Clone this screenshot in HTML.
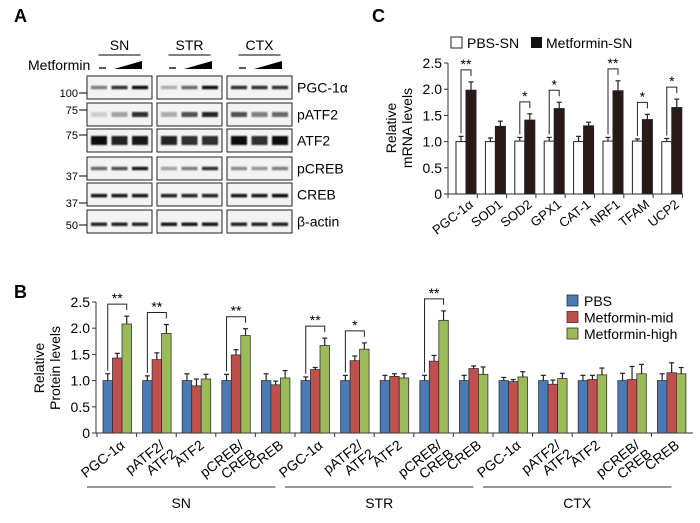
<!DOCTYPE html>
<html><head><meta charset="utf-8"><style>
body{margin:0;background:#fff}
svg{display:block;font-family:"Liberation Sans",sans-serif}
</style></head><body>
<svg id="fig" width="700" height="523" viewBox="0 0 700 523">
<defs><filter id="blur" x="-20%" y="-50%" width="140%" height="200%"><feGaussianBlur stdDeviation="0.9"/></filter></defs>
<text x="14" y="22" font-size="18" font-weight="bold">A</text>
<text x="372" y="22" font-size="18" font-weight="bold">C</text>
<text x="14" y="298" font-size="18" font-weight="bold">B</text>
<g id="blots"></g>
<g id="chartC"></g>
<g id="chartB"></g>
</svg>
<script>
// ---------- data ----------
const cCategories = ["PGC-1α","SOD1","SOD2","GPX1","CAT-1","NRF1","TFAM","UCP2"];
const cPbs = [1,1,1.01,1.01,1,1.01,1.01,1];
const cMet = [1.98,1.29,1.41,1.63,1.3,1.97,1.42,1.65];
const cPbsErr = [0.1,0.07,0.07,0.07,0.1,0.07,0.04,0.06];
const cMetErr = [0.16,0.1,0.12,0.12,0.07,0.19,0.1,0.16];
const cSig = ["**","","*","*","","**","*","*"];
const cTicks = [0,0.5,1.0,1.5,2.0,2.5];
const cTickLabels = ["0","0.5","1.0","1.5","2.0","2.5"];

const bRegions = ["SN","STR","CTX"];
const bCategories = [["PGC-1α"],["pATF2/","ATF2"],["ATF2"],["pCREB/","CREB"],["CREB"]];
const bPbs = [1,1,1,1,1, 1,1,1,1,1, 1,1,1,1,1];
const bMid = [1.43,1.4,0.9,1.49,0.92, 1.21,1.38,1.08,1.37,1.23, 0.98,0.93,1.02,1.02,1.15];
const bHigh = [2.08,1.9,1.03,1.86,1.05, 1.67,1.6,1.05,2.15,1.12, 1.07,1.04,1.11,1.13,1.13];
const bPbsErr = [0.13,0.09,0.13,0.12,0.13, 0.07,0.1,0.1,0.1,0.1, 0.06,0.1,0.1,0.14,0.13];
const bMidErr = [0.09,0.13,0.13,0.1,0.07, 0.04,0.09,0.05,0.11,0.05, 0.04,0.08,0.08,0.25,0.19];
const bHighErr = [0.15,0.17,0.09,0.13,0.14, 0.14,0.12,0.08,0.18,0.14, 0.1,0.1,0.13,0.18,0.12];
const bSig = ["**","**","","**","", "**","*","","**","", "","","","",""];
const bTicks = [0,0.5,1.0,1.5,2.0,2.5];
const bTickLabels = ["0","0.5","1.0","1.5","2.0","2.5"];
const bLegend = ["PBS","Metformin-mid","Metformin-high"];
const bColors = ["#4a7ab5","#c0504d","#9bbb59"];

const blotRows = ["PGC-1α","pATF2","ATF2","pCREB","CREB","β-actin"];
const blotIntensity = [
 [[0.5,0.85,1],[0.3,0.6,1],[0.85,0.85,0.85]],
 [[0.15,0.35,0.85],[0.3,0.7,0.9],[0.7,0.5,0.6]],
 [[1,0.9,0.95],[0.9,0.85,0.85],[1,0.85,1]],
 [[0.6,0.7,0.95],[0.35,0.5,0.85],[0.45,0.4,0.5]],
 [[0.95,0.95,0.95],[0.9,0.9,0.9],[0.95,0.95,1]],
 [[0.9,0.9,0.9],[0.95,0.95,0.95],[0.9,0.9,0.9]]];
const mwLabels = ["100","75","75","37","37","50"];

const NS="http://www.w3.org/2000/svg";
function mk(parent,tag,attrs,text){const e=document.createElementNS(NS,tag);for(const k in attrs)e.setAttribute(k,attrs[k]);if(text!==undefined)e.textContent=text;parent.appendChild(e);return e;}

// ---------- Panel A ----------
(function(){
 const g=document.getElementById('blots');
 const boxX=[87,157,227], boxW=65;
 const rowY=[76,103,129,157,183,210], rowH=23;
 const bandY=[0.5,0.5,0.5,0.5,0.55,0.62];
 const heads=["SN","STR","CTX"];
 heads.forEach((h,i)=>{
  const cx=boxX[i]+boxW/2;
  const t=mk(g,'text',{x:cx,y:50,'font-size':14,'text-anchor':'middle'},h);
  
  
  mk(g,'line',{x1:cx-21,x2:cx+21,y1:55,y2:55,stroke:'#000','stroke-width':1});
  mk(g,'line',{x1:boxX[i]+12,x2:boxX[i]+19,y1:68,y2:68,stroke:'#000','stroke-width':1.3});
  mk(g,'polygon',{points:`${boxX[i]+27},69 ${boxX[i]+55},61 ${boxX[i]+55},69`,fill:'#000'});
 });
 const m=mk(g,'text',{x:28,y:70,'font-size':14},'Metformin');
 
 
 rowY.forEach((y,r)=>{
  for(let b=0;b<3;b++){
   mk(g,'rect',{x:boxX[b],y:y,width:boxW,height:rowH,fill:'#f3f3f3',stroke:'#222','stroke-width':1});
   for(let l=0;l<3;l++){
    const v=blotIntensity[r][b][l];
    const cx=boxX[b]+12+l*20.5;
    const h= (r==2)?9:(r==1?5:3.5);
    mk(g,'rect',{x:cx-8,y:y+rowH*bandY[r]-h/2,width:16,height:h,fill:'#111',opacity:v,filter:'url(#blur)'});
   }
  }
  const t=mk(g,'text',{x:297,y:y+rowH/2+5,'font-size':14},blotRows[r]);
  
  
  const my=[93,110,135,176,203,225][r];
  mk(g,'text',{x:78,y:my+4,'font-size':11,'text-anchor':'end'},mwLabels[r]);
  mk(g,'line',{x1:79,x2:87,y1:my,y2:my,stroke:'#000','stroke-width':1});
 });
})();

// ---------- generic bar helpers ----------
function errBar(g,x,yTop,yErr){
 mk(g,'line',{x1:x,x2:x,y1:yTop,y2:yErr,stroke:'#222','stroke-width':1.2});
 mk(g,'line',{x1:x-2.5,x2:x+2.5,y1:yErr,y2:yErr,stroke:'#222','stroke-width':1.2});
}

// ---------- Panel C ----------
(function(){
 const g=document.getElementById('chartC');
 const x0=448, y0=194, unit=52.4, step=29.4, first=456, bw=10;
 const y=v=>y0-v*unit;
 const cx=i=>first+i*step;
 mk(g,'line',{x1:x0,x2:x0,y1:y(2.5),y2:y0,stroke:'#333','stroke-width':1});
 mk(g,'line',{x1:x0,x2:683,y1:y0,y2:y0,stroke:'#333','stroke-width':1});
 cTicks.forEach((t,i)=>{
  mk(g,'line',{x1:x0-4,x2:x0,y1:y(t),y2:y(t),stroke:'#333'});
  const tl=mk(g,'text',{x:x0-6,y:y(t)+5,'font-size':14,'text-anchor':'end'},cTickLabels[i]);
  
  
 });
 for(let i=0;i<=cCategories.length;i++){const tx=x0+i*29.3;mk(g,'line',{x1:tx,x2:tx,y1:y0,y2:y0+4,stroke:'#333'});}
 cCategories.forEach((c,i)=>{
  const a=cx(i);
  const r1=mk(g,'rect',{x:a,y:y(cPbs[i]),width:bw,height:cPbs[i]*unit,fill:'#fff',stroke:'#222','stroke-width':1});
  
  
  errBar(g,a+bw/2,y(cPbs[i]),y(cPbs[i]+cPbsErr[i]));
  const r2=mk(g,'rect',{x:a+bw,y:y(cMet[i]),width:bw,height:cMet[i]*unit,fill:'#2a1a17',stroke:'#222','stroke-width':1});
  
  
  errBar(g,a+bw*1.5,y(cMet[i]),y(cMet[i]+cMetErr[i]));
  if(cSig[i]){
   const top=y(cMet[i]+cMetErr[i])-12;
   mk(g,'polyline',{points:`${a+bw/2},${y(cPbs[i]+cPbsErr[i])-3} ${a+bw/2},${top} ${a+bw*1.5},${top} ${a+bw*1.5},${top+6}`,fill:'none',stroke:'#222','stroke-width':1});
   mk(g,'text',{x:a+bw,y:top-1,'font-size':14,'text-anchor':'middle'},cSig[i]);
  }
  const lab=mk(g,'text',{x:a+bw+8,y:206,'font-size':13,'text-anchor':'end',transform:`rotate(-38 ${a+bw+8} 206)`},c);
  
  
 });
 const yl=mk(g,'text',{transform:'translate(404,128) rotate(-90)','font-size':14,'text-anchor':'middle'});
 
 
 mk(yl,'tspan',{x:0,y:-8},'Relative');mk(yl,'tspan',{x:0,y:8},'mRNA levels');
 mk(g,'rect',{x:451,y:37,width:11,height:11,fill:'#fff',stroke:'#222'});
 const l1=mk(g,'text',{x:467,y:48,'font-size':14},'PBS-SN');
 
 
 mk(g,'rect',{x:531,y:37,width:11,height:11,fill:'#111'});
 const l2=mk(g,'text',{x:546,y:48,'font-size':14},'Metformin-SN');
 
 
})();

// ---------- Panel B ----------
(function(){
 const g=document.getElementById('chartB');
 const x0=96, y0=433, unit=52.4, step=39.6, first=103, bw=9.5;
 const y=v=>y0-v*unit;
 mk(g,'line',{x1:x0,x2:x0,y1:y(2.5),y2:y0,stroke:'#333'});
 mk(g,'line',{x1:x0,x2:693,y1:y0,y2:y0,stroke:'#333'});
 bTicks.forEach((t,i)=>{
  mk(g,'line',{x1:x0-4,x2:x0,y1:y(t),y2:y(t),stroke:'#333'});
  const tl=mk(g,'text',{x:x0-6,y:y(t)+5,'font-size':14,'text-anchor':'end'},bTickLabels[i]);
  
  
 });
 const series=[bPbs,bMid,bHigh], errs=[bPbsErr,bMidErr,bHighErr];
 for(let i=0;i<bPbs.length;i++){
  const a=first+i*step;
  mk(g,'line',{x1:a-6,x2:a-6,y1:y0,y2:y0+4,stroke:'#333'});
  series.forEach((s,k)=>{
   const r=mk(g,'rect',{x:a+k*bw,y:y(s[i]),width:bw,height:s[i]*unit,fill:bColors[k],stroke:'#333','stroke-width':0.8});
   
   
   errBar(g,a+k*bw+bw/2,y(s[i]),y(s[i]+errs[k][i]));
  });
  if(bSig[i]){
   const top=y(bHigh[i]+bHighErr[i])-12;
   mk(g,'polyline',{points:`${a+bw/2},${y(bPbs[i]+bPbsErr[i])-3} ${a+bw/2},${top} ${a+bw*2.5},${top} ${a+bw*2.5},${top+6}`,fill:'none',stroke:'#222','stroke-width':1});
   mk(g,'text',{x:a+bw*1.5,y:top-1,'font-size':14,'text-anchor':'middle'},bSig[i]);
  }
  const cat=bCategories[i%5];
  const ax=a+bw*2.4, ay=447;
  const lab=mk(g,'text',{x:ax,y:ay,'font-size':14,'text-anchor':'end',transform:`rotate(-38 ${ax} ${ay})`});
  
  
  if(cat.length==1) mk(lab,'tspan',{x:ax,y:ay},cat[0]);
  else {mk(lab,'tspan',{x:ax,y:ay},cat[0]);mk(lab,'tspan',{x:ax+4,y:ay+14},cat[1]);}
 }
 bRegions.forEach((rname,j)=>{
  const xs=first+j*5*step-16, xe=first+(j*5+4)*step+14;
  mk(g,'line',{x1:xs,x2:xe,y1:487,y2:487,stroke:'#333'});
  const t=mk(g,'text',{x:(xs+xe)/2,y:508,'font-size':14,'text-anchor':'middle'},rname);
  
  
 });
 const yl=mk(g,'text',{transform:'translate(52,368) rotate(-90)','font-size':14,'text-anchor':'middle'});
 
 
 mk(yl,'tspan',{x:0,y:-8},'Relative');mk(yl,'tspan',{x:0,y:8},'Protein levels');
 bLegend.forEach((l,k)=>{
  mk(g,'rect',{x:567,y:295+k*16.5,width:11,height:11,fill:bColors[k],stroke:'#333','stroke-width':0.8});
  const t=mk(g,'text',{x:584,y:306+k*16.5,'font-size':14},l);
  
  
 });
})();
</script>
</body></html>
